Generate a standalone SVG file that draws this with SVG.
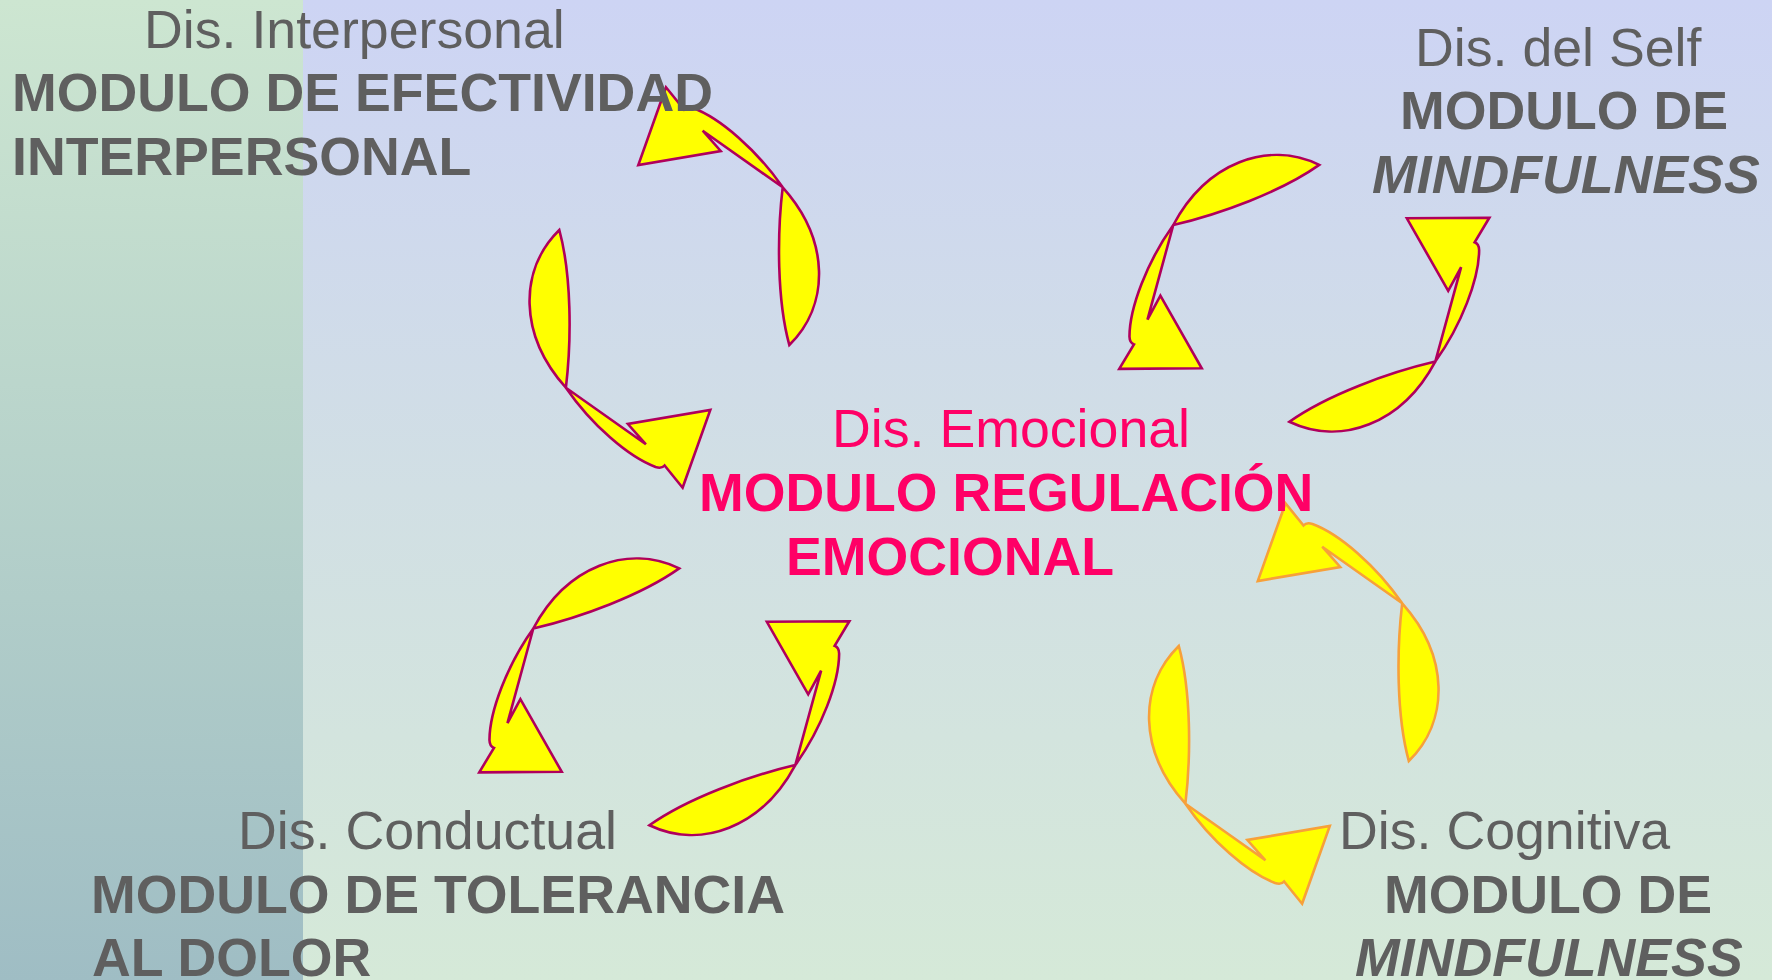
<svg xmlns="http://www.w3.org/2000/svg" xmlns:xlink="http://www.w3.org/1999/xlink" width="1772" height="980" viewBox="0 0 1772 980">
<style>
.t{font-family:"Liberation Sans",Arial,sans-serif;font-size:53.7px;fill:#5f5f5f}
.b{font-weight:bold}
.i{font-style:italic}
.pk{fill:#ff0066}
.arrM{fill:#ffff00;stroke:#b0005c;stroke-width:2.6;stroke-linejoin:miter}
.arrO{fill:#ffff00;stroke:#f7a03a;stroke-width:2.6;stroke-linejoin:miter}
</style>
<defs>
<linearGradient id="bgMain" x1="0" y1="0" x2="0" y2="1">
<stop offset="0" stop-color="#cdd4f4"/>
<stop offset="0.5" stop-color="#d1dfe4"/>
<stop offset="1" stop-color="#d5e9d8"/>
</linearGradient>
<linearGradient id="bgLeft" x1="0" y1="0" x2="0" y2="1">
<stop offset="0" stop-color="#cde6d1"/>
<stop offset="1" stop-color="#9fbdc4"/>
</linearGradient>
<path id="arw" d="M666,87.3 L638.3,165 L720.7,151 L702.7,130.7 L782.7,187.3 C777,235 777,300 789.3,345 C830,305 830,240 782.7,187.3 C757,150 720,118 693,108 Q687,106 684,109.5 Z"/>
</defs>
<rect x="0" y="0" width="1772" height="980" fill="url(#bgMain)"/>
<rect x="0" y="0" width="303" height="980" fill="url(#bgLeft)"/>

<g id="connectors">
<g id="cycle-interpersonal" class="arrM">
<use xlink:href="#arw" href="#arw"/>
<use xlink:href="#arw" href="#arw" transform="rotate(180 674.3 287.5)"/>
</g>
<g id="cycle-self" class="arrM">
<use xlink:href="#arw" href="#arw" transform="translate(1173.3 225) rotate(-110) translate(-782.7 -187.3)"/>
<use xlink:href="#arw" href="#arw" transform="rotate(180 1304.3 293.3) translate(1173.3 225) rotate(-110) translate(-782.7 -187.3)"/>
</g>
<g id="cycle-conductual" class="arrM" transform="translate(-640 403.5)">
<use xlink:href="#arw" href="#arw" transform="translate(1173.3 225) rotate(-110) translate(-782.7 -187.3)"/>
<use xlink:href="#arw" href="#arw" transform="rotate(180 1304.3 293.3) translate(1173.3 225) rotate(-110) translate(-782.7 -187.3)"/>
</g>
<g id="cycle-cognitiva" class="arrO" transform="translate(619.5 416)">
<use xlink:href="#arw" href="#arw"/>
<use xlink:href="#arw" href="#arw" transform="rotate(180 674.3 287.5)"/>
</g>
</g>

<g id="node-interpersonal">
<text class="t" x="144" y="47.7">Dis. Interpersonal</text>
<text class="t b" x="12" y="111">MODULO DE EFECTIVIDAD</text>
<text class="t b" x="12" y="175">INTERPERSONAL</text>
</g>
<g id="node-self">
<text class="t" x="1415" y="65.7">Dis. del Self</text>
<text class="t b" x="1400" y="129.3">MODULO DE</text>
<text class="t b i" x="1372" y="193.3">MINDFULNESS</text>
</g>
<g id="node-emocional">
<text class="t pk" x="832" y="446.7">Dis. Emocional</text>
<text class="t b pk" x="699" y="511">MODULO REGULACIÓN</text>
<text class="t b pk" x="786" y="575">EMOCIONAL</text>
</g>
<g id="node-conductual">
<text class="t" x="238" y="849.3">Dis. Conductual</text>
<text class="t b" x="91" y="913.3">MODULO DE TOLERANCIA</text>
<text class="t b" x="92" y="976">AL DOLOR</text>
</g>
<g id="node-cognitiva">
<text class="t" x="1339" y="849.3">Dis. Cognitiva</text>
<text class="t b" x="1384" y="913.3">MODULO DE</text>
<text class="t b i" x="1355" y="976">MINDFULNESS</text>
</g>
</svg>
